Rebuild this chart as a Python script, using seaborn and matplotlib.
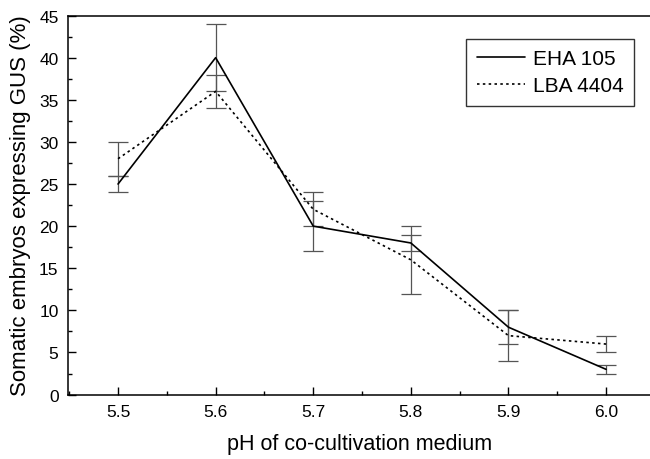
import pandas as pd
import numpy as np
import matplotlib
matplotlib.use('Agg')
import matplotlib.pyplot as plt
import seaborn as sns
from matplotlib.ticker import MultipleLocator

# data
ph = [5.5, 5.6, 5.7, 5.8, 5.9, 6.0]
eha_mean = [25, 40, 20, 18, 8, 3]
eha_err = [1, 4, 3, 1, 2, 0.5]
lba_mean = [28, 36, 22, 16, 7, 6]
lba_err = [2, 2, 2, 4, 3, 1]

sns.set_style('ticks')
plt.rcParams['font.family'] = ['Liberation Sans', 'DejaVu Sans']
plt.rcParams['text.color'] = 'black'
plt.rcParams['axes.labelcolor'] = 'black'
plt.rcParams['xtick.color'] = 'black'
plt.rcParams['ytick.color'] = 'black'

df = pd.concat([
    pd.DataFrame({'pH': ph, 'GUS': eha_mean, 'err': eha_err, 'Strain': 'EHA 105'}),
    pd.DataFrame({'pH': ph, 'GUS': lba_mean, 'err': lba_err, 'Strain': 'LBA 4404'}),
], ignore_index=True)

fig = plt.figure(figsize=(6.5, 4.6), dpi=100)
ax = fig.add_axes([0.105, 0.14, 0.895, 0.824])

styles = {'EHA 105': '-', 'LBA 4404': (0, (1.5, 2))}
for strain, sub in df.groupby('Strain'):
    ax.errorbar(sub['pH'], sub['GUS'], yerr=sub['err'], fmt='none',
                ecolor='#555555', elinewidth=0.9, capsize=7, capthick=0.9, zorder=1)
    sns.lineplot(data=sub, x='pH', y='GUS', ax=ax, color='black',
                 linestyle=styles[strain], linewidth=1.2, label=strain, zorder=2)

ax.set_xlim(5.449, 6.045)
ax.set_ylim(0, 45)
ax.xaxis.set_major_locator(MultipleLocator(0.1))
ax.xaxis.set_minor_locator(MultipleLocator(0.05))
ax.yaxis.set_major_locator(MultipleLocator(5))
ax.yaxis.set_minor_locator(MultipleLocator(2.5))
ax.set_xticks(ph)
ax.set_xticklabels([f'{v:.1f}' for v in ph])
ax.tick_params(which='major', direction='in', length=6, width=1, labelsize=12.5, pad=7)
ax.tick_params(which='minor', direction='in', length=3, width=1)

for side in ['left', 'bottom', 'top']:
    ax.spines[side].set_linewidth(1.1)
    ax.spines[side].set_color('black')
ax.spines['right'].set_visible(False)

ax.set_xlabel('pH of co-cultivation medium', fontsize=15.5, labelpad=10)
ax.set_ylabel('Somatic embryos expressing GUS (%)', fontsize=16, labelpad=6)

leg = ax.legend(loc='upper right', bbox_to_anchor=(0.9725, 0.939), borderaxespad=0,
                fontsize=15, handlelength=2.3, handletextpad=0.4, frameon=True,
                fancybox=False, borderpad=0.5, labelspacing=0.4)
leg.get_frame().set_edgecolor('black')
leg.get_frame().set_linewidth(1)

fig.savefig('out.png', dpi=100)
